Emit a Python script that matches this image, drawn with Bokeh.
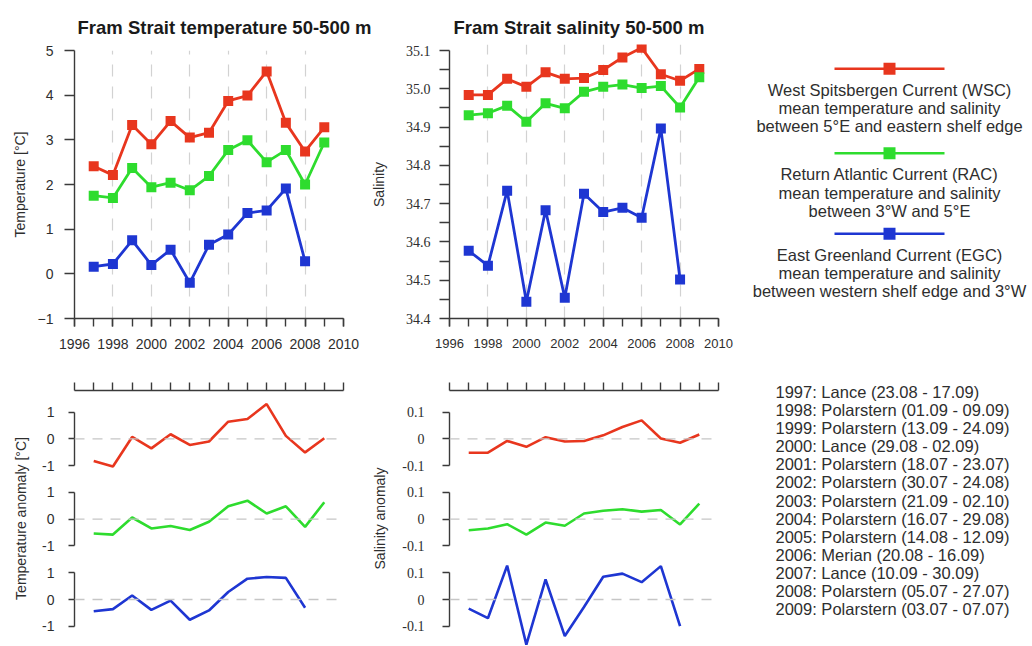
import math

from bokeh.plotting import figure
from bokeh.layouts import row, column
from bokeh.models import Range1d, LinearAxis, FixedTicker, Span, Grid, NumeralTickFormatter
from bokeh.embed import file_html
from bokeh.resources import INLINE
from bokeh.core.properties import value

NaN = float("nan")

# ---------------------------------------------------------------- data
years = [1997, 1998, 1999, 2000, 2001, 2002, 2003, 2004, 2005, 2006, 2007, 2008, 2009]
year_ticks = [1996, 1998, 2000, 2002, 2004, 2006, 2008, 2010]
year_all = list(range(1996, 2011))
year_grid = [1998, 2000, 2002, 2004, 2006, 2008, 2010]

temp_ticks = [-1, 0, 1, 2, 3, 4, 5]
sal_ticks = [34.4, 34.5, 34.6, 34.7, 34.8, 34.9, 35.0, 35.1]
sal_minor = [34.45, 34.55, 34.65, 34.75, 34.85, 34.95, 35.05]
temp_anom_ticks = [-1, 0, 1]
temp_anom_labels = ["-1", "0", "1"]
sal_anom_ticks = [-0.1, 0, 0.1]
sal_anom_labels = ["-0.1", "0", "0.1"]

# mean temperature 50-500 m [deg C]
wsc_temp = [2.41, 2.21, 3.33, 2.90, 3.42, 3.05, 3.16, 3.87, 3.99, 4.53, 3.38, 2.74, 3.28]
rac_temp = [1.75, 1.70, 2.37, 1.94, 2.04, 1.87, 2.19, 2.77, 2.99, 2.50, 2.77, 2.00, 2.94]
egc_temp = [0.16, 0.22, 0.75, 0.20, 0.54, -0.20, 0.65, 0.88, 1.36, 1.42, 1.91, 0.28, NaN]

# mean salinity 50-500 m
wsc_sal = [34.984, 34.984, 35.026, 35.005, 35.043, 35.026, 35.028, 35.049, 35.082, 35.107, 35.038, 35.021, 35.052]
rac_sal = [34.931, 34.936, 34.956, 34.914, 34.962, 34.949, 34.992, 35.005, 35.011, 35.002, 35.007, 34.951, 35.030]
egc_sal = [34.577, 34.538, 34.734, 34.444, 34.683, 34.454, 34.726, 34.678, 34.689, 34.663, 34.896, 34.502, NaN]

# temperature anomalies [deg C]
wsc_temp_anom = [-0.83, -1.04, 0.07, -0.36, 0.17, -0.23, -0.10, 0.64, 0.74, 1.30, 0.11, -0.51, 0.02]
rac_temp_anom = [-0.54, -0.58, 0.06, -0.35, -0.26, -0.41, -0.10, 0.48, 0.69, 0.21, 0.48, -0.29, 0.63]
egc_temp_anom = [-0.44, -0.36, 0.15, -0.39, -0.04, -0.76, -0.41, 0.28, 0.78, 0.84, 0.81, -0.31, NaN]

# salinity anomalies
wsc_sal_anom = [-0.052, -0.052, -0.008, -0.030, 0.006, -0.010, -0.008, 0.013, 0.044, 0.069, 0.001, -0.015, 0.016]
rac_sal_anom = [-0.042, -0.035, -0.019, -0.058, -0.013, -0.025, 0.021, 0.031, 0.037, 0.028, 0.034, -0.020, 0.058]
egc_sal_anom = [-0.034, -0.070, 0.127, -0.169, 0.075, -0.137, -0.028, 0.085, 0.097, 0.065, 0.125, -0.100, NaN]

legend_lines = [
    ["West Spitsbergen Current (WSC)", "mean temperature and salinity", "between 5°E and eastern shelf edge"],
    ["Return Atlantic Current (RAC)", "mean temperature and salinity", "between 3°W and 5°E"],
    ["East Greenland Current (EGC)", "mean temperature and salinity", "between western shelf edge and 3°W"],
]

cruises = [
    "1997: Lance (23.08 - 17.09)",
    "1998: Polarstern (01.09 - 09.09)",
    "1999: Polarstern (13.09 - 24.09)",
    "2000: Lance (29.08 - 02.09)",
    "2001: Polarstern (18.07 - 23.07)",
    "2002: Polarstern (30.07 - 24.08)",
    "2003: Polarstern (21.09 - 02.10)",
    "2004: Polarstern (16.07 - 29.08)",
    "2005: Polarstern (14.08 - 12.09)",
    "2006: Merian (20.08 - 16.09)",
    "2007: Lance (10.09 - 30.09)",
    "2008: Polarstern (05.07 - 27.07)",
    "2009: Polarstern (03.07 - 07.07)",
]

# ---------------------------------------------------------------- style
FONT = "Liberation Sans"
NARROW = "Liberation Sans Narrow"
INK = "#2e2e2e"
AXIS = "#3a3a3a"
GRID = "#d2d2d2"
RED = "#E8361E"
GREEN = "#2EDC2E"
BLUE = "#1E36D2"
COLORS = [RED, GREEN, BLUE]

PAGE_H = 646
COL_W = 370                    # width of each plot column
FRAME_W = 269                  # plot frame width (1996..2010)
STRIP_H = 40                   # title strip height
TOP_H = 325                    # upper panels
FRAME_TOP, FRAME_BOTTOM = 50, 318
BOT_H = [113, 80, 88]          # heights of the three stacked anomaly panels
BOT_TOP = [365, 478, 558]      # their top edges on the page
BOT_ZERO = [438.3, 518.6, 599.0]
ANOM_PX = 26.7                 # pixels per unit (temperature) / per 0.1 (salinity)


def base_fig(width, height, x_range, y_range, left=0, right=0, top=0, bottom=0):
    p = figure(width=width, height=height, x_range=x_range, y_range=y_range,
               min_border_left=left, min_border_right=right,
               min_border_top=top, min_border_bottom=bottom,
               x_axis_location=None, y_axis_location=None,
               toolbar_location=None, output_backend="svg",
               outline_line_color=None,
               background_fill_color="white", border_fill_color="white")
    p.center = []
    return p


def style_axis(ax, tick_out, label_font=FONT, label_size="14px"):
    ax.axis_line_color = AXIS
    ax.axis_line_width = 1.4
    ax.major_tick_line_color = AXIS
    ax.major_tick_line_width = 1.4
    ax.minor_tick_line_color = AXIS
    ax.minor_tick_line_width = 1.4
    ax.major_tick_in = 0
    ax.major_tick_out = tick_out
    ax.minor_tick_in = 0
    ax.minor_tick_out = tick_out
    ax.major_label_text_font = label_font
    ax.major_label_text_font_size = label_size
    ax.major_label_text_color = INK


def top_panel(width, left, y_range, frame_top, yticks, yminor, y_fmt, y_font, y_standoff,
              x_label_size, series):
    p = base_fig(width, TOP_H, Range1d(1996, 2010), y_range,
                 left=left, right=width - left - FRAME_W,
                 top=frame_top - STRIP_H, bottom=STRIP_H + TOP_H - FRAME_BOTTOM)
    xa = LinearAxis(ticker=FixedTicker(ticks=year_ticks, minor_ticks=year_all))
    style_axis(xa, 8, label_size=x_label_size)
    xa.major_label_standoff = 12
    p.add_layout(xa, "below")

    ya = LinearAxis(ticker=FixedTicker(ticks=yticks, minor_ticks=yminor),
                    bounds=(yticks[0], yticks[-1]))
    style_axis(ya, 10, label_font=y_font)
    if y_fmt:
        ya.formatter = NumeralTickFormatter(format=y_fmt)
    ya.major_label_standoff = y_standoff
    p.add_layout(ya, "left")

    p.add_layout(Grid(dimension=0, ticker=FixedTicker(ticks=year_grid),
                      grid_line_color=GRID, grid_line_width=1.2, grid_line_dash="12 10"))

    for vals, color in zip(series, COLORS):
        p.line(years, vals, line_color=color, line_width=2.8)
        p.scatter(years, vals, marker="square", size=10, fill_color=color, line_color=None)
    return p


def anomaly_panel(i, width, left, vals, color, unit, ticks, labels, y_font, y_standoff, tick_out):
    h = BOT_H[i]
    top_border = 25 if i == 0 else 0
    frame_top = BOT_TOP[i] + top_border
    frame_bottom = BOT_TOP[i] + h
    scale = ANOM_PX / unit
    y0 = -(frame_bottom - BOT_ZERO[i]) / scale
    y1 = (BOT_ZERO[i] - frame_top) / scale
    p = base_fig(width, h, Range1d(1996, 2010), Range1d(y0, y1),
                 left=left, right=width - left - FRAME_W, top=top_border, bottom=0)

    if i == 0:
        xa = LinearAxis(ticker=FixedTicker(ticks=year_all),
                        major_label_overrides={y: "" for y in year_all})
        style_axis(xa, 8)
        p.add_layout(xa, "above")

    ya = LinearAxis(ticker=FixedTicker(ticks=ticks), bounds=(ticks[0], ticks[-1]))
    style_axis(ya, tick_out, label_font=y_font)
    ya.major_label_overrides = {t: s for t, s in zip(ticks, labels)}
    ya.major_label_standoff = y_standoff
    p.add_layout(ya, "left")

    p.add_layout(Span(location=0, dimension="width", line_color="#c6c6c6",
                      line_width=1.3, line_dash="10 8"))
    p.line(years, vals, line_color=color, line_width=2.6)
    return p


def label_strip(width, labels, xs, page_ys):
    """Narrow figure carrying the rotated y-axis titles of one column."""
    h = PAGE_H - STRIP_H
    p = base_fig(width, h, Range1d(0, width), Range1d(0, h))
    p.text(x=xs, y=[PAGE_H - y for y in page_ys], text=labels, angle=math.pi / 2,
           text_font=value(FONT), text_font_size="14px", text_color=INK,
           text_align="center", text_baseline="middle")
    return p


# ---------------------------------------------------------------- left column: temperature
L_STRIP = 30
L_W = COL_W - L_STRIP
temp_fig = top_panel(L_W, 74 - L_STRIP, Range1d(-1, 5), FRAME_TOP, temp_ticks, [], None, FONT, 11,
                     "14px", [wsc_temp, rac_temp, egc_temp])
temp_anoms = [wsc_temp_anom, rac_temp_anom, egc_temp_anom]
left_bottom = [
    anomaly_panel(i, L_W, 74 - L_STRIP, temp_anoms[i], COLORS[i], 1.0,
                  temp_anom_ticks, temp_anom_labels, FONT, 14, 6)
    for i in range(3)
]
left_labels = label_strip(L_STRIP, ["Temperature [°C]", "Temperature anomaly [°C]"],
                          [19.5, 20.0], [184, 518])

# ---------------------------------------------------------------- right column: salinity
R_STRIP = 26
R_W = COL_W - R_STRIP
sal_px = (FRAME_BOTTOM - FRAME_TOP) / (sal_ticks[-1] - sal_ticks[0])
sal_frame_top = 44             # a little head-room so the 2006 marker is not cut
sal_range = Range1d(sal_ticks[0], sal_ticks[-1] + (FRAME_TOP - sal_frame_top) / sal_px)
sal_fig = top_panel(R_W, 79 - R_STRIP, sal_range, sal_frame_top, sal_ticks, sal_minor, "0.0",
                    NARROW, 9, "13px", [wsc_sal, rac_sal, egc_sal])
sal_anoms = [wsc_sal_anom, rac_sal_anom, egc_sal_anom]
right_bottom = [
    anomaly_panel(i, R_W, 79 - R_STRIP, sal_anoms[i], COLORS[i], 0.1,
                  sal_anom_ticks, sal_anom_labels, NARROW, 18, 7)
    for i in range(3)
]
right_labels = label_strip(R_STRIP, ["Salinity", "Salinity anomaly"], [8.5, 9.5], [184, 518])

# ---------------------------------------------------------------- titles
strip = base_fig(2 * COL_W, STRIP_H, Range1d(0, 2 * COL_W), Range1d(STRIP_H, 0))
strip.text(x=[77, 453], y=[26.7, 26.7],
           text=["Fram Strait temperature 50-500 m", "Fram Strait salinity 50-500 m"],
           text_font=value(FONT), text_font_style="bold", text_font_size="18.5px",
           text_color="#1a1a1a", text_align="left", text_baseline="alphabetic")

# ---------------------------------------------------------------- legend and cruise list
LEG_W = 292
leg = base_fig(LEG_W, PAGE_H, Range1d(0, LEG_W), Range1d(PAGE_H, 0))
LEG_CX = 149
key_y = [68.3, 152.7, 233.3]
for ky, color, lines in zip(key_y, COLORS, legend_lines):
    leg.line([LEG_CX - 55, LEG_CX + 55], [ky, ky], line_color=color, line_width=2.4)
    leg.scatter([LEG_CX], [ky], marker="square", size=12, fill_color=color, line_color=None)
    leg.text(x=[LEG_CX] * 3, y=[ky + 21 + 18.3 * k for k in range(3)], text=lines,
             text_font=value(FONT), text_font_size="16.5px", text_color=INK,
             text_align="center", text_baseline="middle")

leg.text(x=[35] * len(cruises), y=[391.7 + 18.05 * k for k in range(len(cruises))], text=cruises,
         text_font=value(FONT), text_font_size="16.5px", text_color=INK,
         text_align="left", text_baseline="middle")

layout = row(
    column(
        strip,
        row(
            row(left_labels, column(temp_fig, *left_bottom)),
            row(right_labels, column(sal_fig, *right_bottom)),
        ),
    ),
    leg,
)

open("out.html", "w").write(file_html(layout, INLINE, title="Fram Strait 50-500 m"))
